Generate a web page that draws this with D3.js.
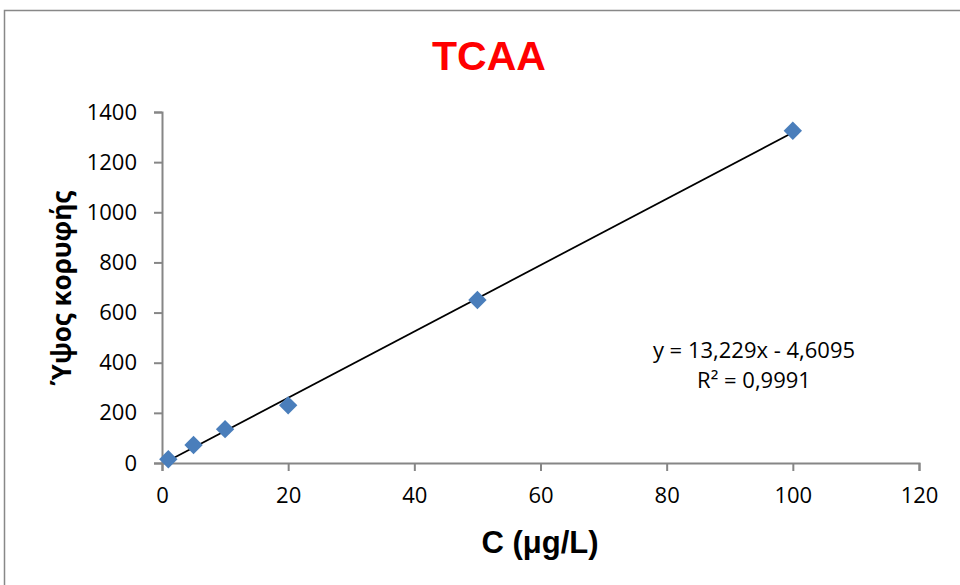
<!DOCTYPE html>
<html>
<head>
<meta charset="utf-8">
<script src="https://cdn.jsdelivr.net/npm/d3@7"></script>
<style>
  body { margin: 0; background: #fff; }
  svg { display: block; }
</style>
</head>
<body>
<script>
// data
const concentrations = [1, 5, 10, 20, 50, 100];
const peakHeights = [15, 72, 135, 230, 650, 1325];
const xTicks = [0, 20, 40, 60, 80, 100, 120];
const yTicks = [0, 200, 400, 600, 800, 1000, 1200, 1400];
const trendSlope = 13.229;
const trendIntercept = -4.6095;
const equationLines = ["y = 13,229x - 4,6095", "R² = 0,9991"];

const W = 960, H = 585;
const svg = d3.select("body").append("svg").attr("width", W).attr("height", H);

// chart frame (right and bottom edges fall outside the picture)
svg.append("rect")
    .attr("x", 4.5).attr("y", 10.5)
    .attr("width", 1000).attr("height", 1000)
    .attr("fill", "#fff")
    .attr("stroke", "#888").attr("stroke-width", 1.5);

let x = d3.scaleLinear().domain([0, 120]).range([162, 919]);
let y = d3.scaleLinear().domain([0, 1400]).range([463, 112]);

const font = "Open Sans, sans-serif";

// title
svg.append("text")
    .attr("x", 489).attr("y", 70)
    .attr("text-anchor", "middle")
    .attr("fill", "#ff0000")
    .style("font-family", "Liberation Sans, Arial, sans-serif")
    .style("font-weight", "bold")
    .style("font-size", "41px")
    .text("TCAA");

// axes
let axis_x = d3.axisBottom(x).tickValues(xTicks).tickSize(8).tickPadding(16).tickFormat(d3.format("d"));
let ax = svg.append("g").attr("transform", `translate(0, ${y(0)})`).call(axis_x);

let axis_y = d3.axisLeft(y).tickValues(yTicks).tickSize(8).tickPadding(17).tickFormat(d3.format("d"));
let ay = svg.append("g").attr("transform", `translate(${x(0)}, 0)`).call(axis_y);

[ax, ay].forEach(a => {
    a.selectAll("path").attr("stroke", "#868686").attr("stroke-width", 2);
    a.selectAll("line").attr("stroke", "#868686").attr("stroke-width", 2);
    a.selectAll("text").attr("fill", "#000").style("font-family", font).style("font-size", "22px");
});

// axis titles
svg.append("text")
    .attr("x", 540).attr("y", 553)
    .attr("text-anchor", "middle")
    .style("font-family", "Liberation Sans, Arial, sans-serif").style("font-weight", "bold").style("font-size", "31px")
    .text("C (μg/L)");

svg.append("text")
    .attr("transform", `translate(71, 288) rotate(-90)`)
    .attr("text-anchor", "middle")
    .style("font-family", font).style("font-weight", "bold").style("font-size", "26px")
    .text("Ύψος κορυφής");

// trendline over the data range
const xMin = d3.min(concentrations), xMax = d3.max(concentrations);
svg.append("line")
    .attr("x1", x(xMin)).attr("y1", y(trendSlope * xMin + trendIntercept))
    .attr("x2", x(xMax)).attr("y2", y(trendSlope * xMax + trendIntercept))
    .attr("stroke", "#000").attr("stroke-width", 1.75);

// markers
const pts = concentrations.map((c, i) => ({c, h: peakHeights[i]}));
svg.append("g").selectAll("path").data(pts).enter()
    .append("path")
    .attr("d", d3.symbol().type(d3.symbolDiamond2).size(215))
    .attr("transform", d => `translate(${x(d.c)}, ${y(d.h)})`)
    .attr("fill", "#4a7ebb");

// equation label
svg.append("g").selectAll("text").data(equationLines).enter()
    .append("text")
    .attr("x", 754).attr("y", (d, i) => 358 + i * 30)
    .attr("text-anchor", "middle")
    .style("font-family", font).style("font-size", "22px")
    .text(d => d);
</script>
</body>
</html>
